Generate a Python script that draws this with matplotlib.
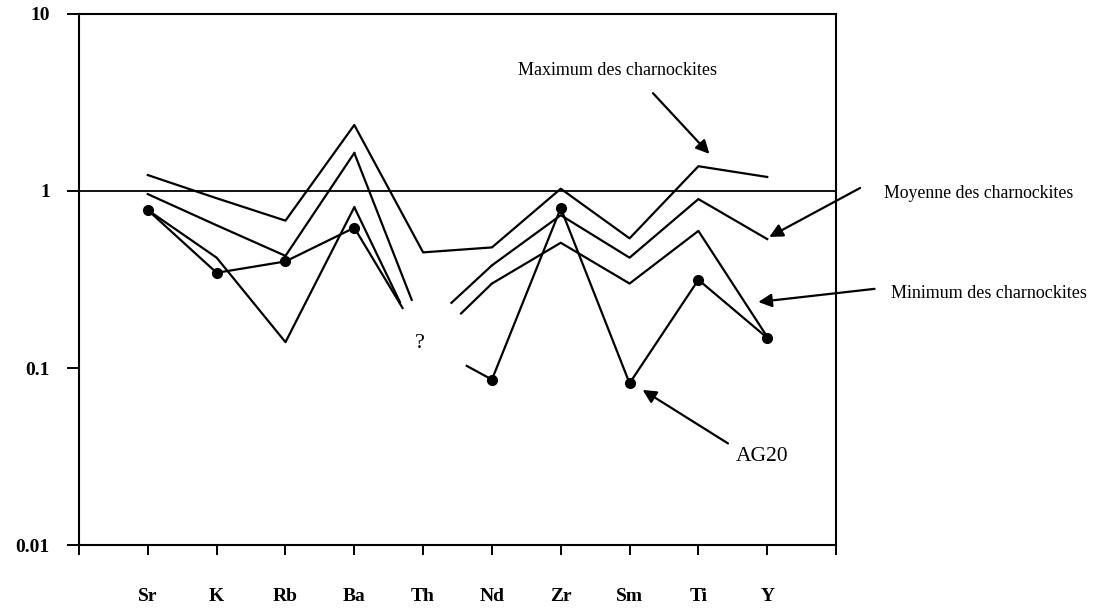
import numpy as np
import matplotlib
matplotlib.use('Agg')
import matplotlib.pyplot as plt

plt.rcParams['font.family'] = ['Liberation Serif', 'DejaVu Serif']

# elements along the x axis
elements = ['Sr', 'K', 'Rb', 'Ba', 'Th', 'Nd', 'Zr', 'Sm', 'Ti', 'Y']

# normalised values (Th for Moyenne/Minimum/AG20 is the
# implied value the broken segments aim at)
maxi = [1.23, 0.91, 0.68, 2.36, 0.45, 0.48, 1.03, 0.54, 1.38, 1.20]
moyenne = [0.96, 0.64, 0.43, 1.64, 0.166, 0.38, 0.73, 0.42, 0.90, 0.535]
mini = [0.78, 0.42, 0.14, 0.81, 0.126, 0.30, 0.51, 0.30, 0.595, 0.15]
ag20 = [0.78, 0.345, 0.40, 0.62, 0.14, 0.086, 0.80, 0.082, 0.315, 0.148]

# how much of the Ba->Th and Th->Nd segments is drawn (gap around Th)
gaps = {'moyenne': (0.84, 0.40), 'mini': (0.67, 0.54), 'ag20': (0.71, 0.62)}

x = np.arange(1, len(elements) + 1)
ith = elements.index('Th')

def partial(x0, y0, x1, y1, t0, t1):
    # piece of a segment between fractions t0..t1, straight on log scale
    xs = [x0 + (x1 - x0) * t0, x0 + (x1 - x0) * t1]
    ly0, ly1 = np.log10(y0), np.log10(y1)
    ys = [10 ** (ly0 + (ly1 - ly0) * t0), 10 ** (ly0 + (ly1 - ly0) * t1)]
    return xs, ys

def broken_line(ax, vals, gap, marker=None):
    vals = np.array(vals)
    kw = dict(color='black', lw=1.6)
    mk = dict(marker=marker, ms=7) if marker else {}
    ax.plot(x[:ith], vals[:ith], **kw, **mk)
    ax.plot(x[ith + 1:], vals[ith + 1:], **kw, **mk)
    xs, ys = partial(x[ith - 1], vals[ith - 1], x[ith], vals[ith], 0, gap[0])
    ax.plot(xs, ys, solid_capstyle='butt', **kw)
    xs, ys = partial(x[ith], vals[ith], x[ith + 1], vals[ith + 1], gap[1], 1)
    ax.plot(xs, ys, solid_capstyle='butt', **kw)

fig = plt.figure(figsize=(10.96, 6.13), dpi=100)
ax = fig.add_axes([0.0721, 0.1109, 0.6907, 0.8663])

ax.set_yscale('log')
ax.set_ylim(0.01, 10)
ax.set_xlim(0, 11)

ax.axhline(1, color='black', lw=1.3)

ax.plot(x, maxi, color='black', lw=1.6)
broken_line(ax, moyenne, gaps['moyenne'])
broken_line(ax, mini, gaps['mini'])
broken_line(ax, ag20, gaps['ag20'], marker='o')

ax.text(4.95, 0.138, '?', fontsize=16, ha='center', va='center')

# labels with arrows
arrow = dict(arrowstyle='-|>', color='black', lw=1.6, mutation_scale=20,
             shrinkA=0, shrinkB=0)
ax.annotate('', xy=(9.16, 1.62), xytext=(8.34, 3.57), arrowprops=arrow)
ax.text(7.82, 4.82, 'Maximum des charnockites', fontsize=13,
        ha='center', va='center')
ax.annotate('', xy=(10.03, 0.55), xytext=(11.35, 1.04), arrowprops=arrow,
            annotation_clip=False)
ax.text(11.69, 0.97, 'Moyenne des charnockites', fontsize=12.8,
        ha='left', va='center', clip_on=False)
ax.annotate('', xy=(9.87, 0.236), xytext=(11.56, 0.28), arrowprops=arrow,
            annotation_clip=False)
ax.text(11.80, 0.262, 'Minimum des charnockites', fontsize=13,
        ha='left', va='center', clip_on=False)
ax.annotate('', xy=(8.19, 0.0752), xytext=(9.43, 0.0375), arrowprops=arrow)
ax.text(9.55, 0.0317, 'AG20', fontsize=15.5, ha='left', va='center')

# axes styling
for s in ax.spines.values():
    s.set_linewidth(1.5)
ax.set_xticks(np.arange(0, 12))
ax.set_xticklabels([''] + elements + [''], fontsize=14, fontweight='bold')
ax.tick_params(axis='x', direction='out', length=7, width=1.4, pad=24)
ax.set_yticks([0.01, 0.1, 1, 10])
ax.set_yticklabels(['0.01', '0.1', '1', '10'], fontsize=14, fontweight='bold')
ax.yaxis.set_minor_locator(matplotlib.ticker.NullLocator())
ax.tick_params(axis='y', direction='out', length=9, width=1.4, pad=12)

fig.savefig('out.png', dpi=100)
